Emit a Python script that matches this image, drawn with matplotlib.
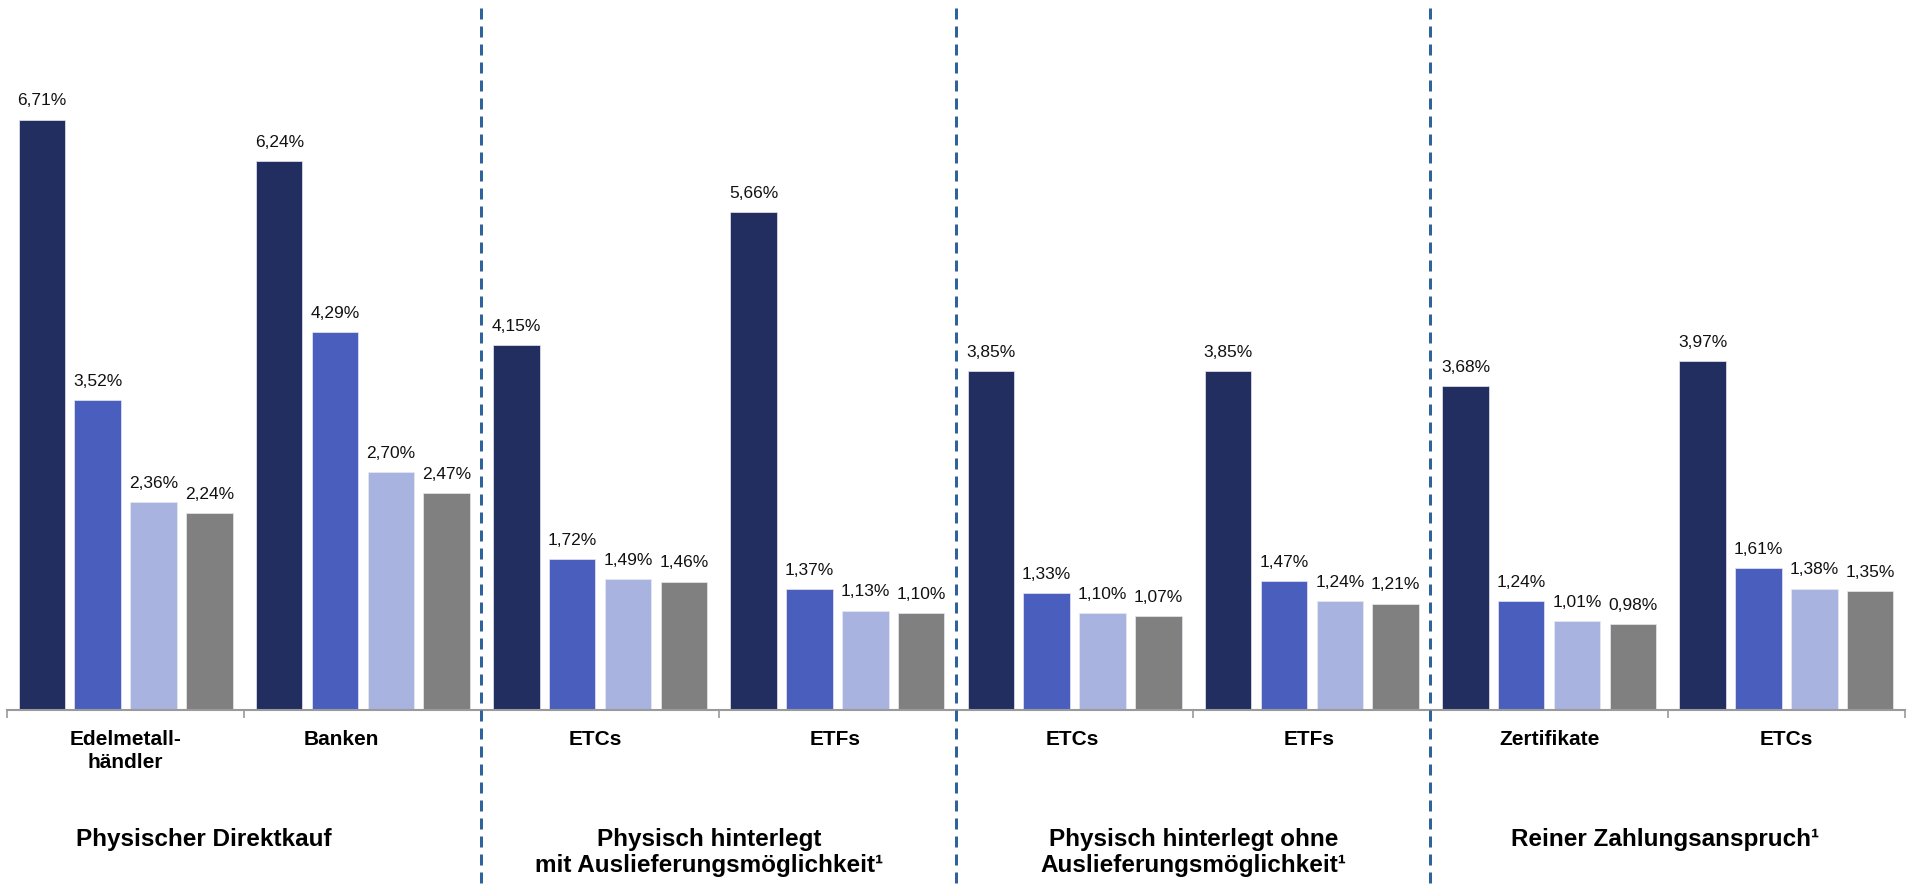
import matplotlib.pyplot as plt
import numpy as np
from matplotlib.lines import Line2D
from matplotlib.transforms import blended_transform_factory

plt.rcParams["font.family"] = ["Liberation Sans", "DejaVu Sans"]

categories = ["Edelmetall-\nhändler", "Banken", "ETCs", "ETFs",
              "ETCs", "ETFs", "Zertifikate", "ETCs"]
label_pos = [0.5, 1.41, 2.48, 3.49, 4.49, 5.49, 6.5, 7.5]
groups = ["Physischer Direktkauf",
          "Physisch hinterlegt\nmit Auslieferungsmöglichkeit¹",
          "Physisch hinterlegt ohne\nAuslieferungsmöglichkeit¹",
          "Reiner Zahlungsanspruch¹"]
group_pos = [0.83, 2.96, 5.0, 6.99]
separators = [2, 4, 6]

series_1 = [6.71, 6.24, 4.15, 5.66, 3.85, 3.85, 3.68, 3.97]
series_2 = [3.52, 4.29, 1.72, 1.37, 1.33, 1.47, 1.24, 1.61]
series_3 = [2.36, 2.70, 1.49, 1.13, 1.10, 1.24, 1.01, 1.38]
series_4 = [2.24, 2.47, 1.46, 1.10, 1.07, 1.21, 0.98, 1.35]
series = [series_1, series_2, series_3, series_4]
colors = ["#232E60", "#4A5EBE", "#A8B3DF", "#808080"]

W, H = 1915, 884
fig = plt.figure(figsize=(W / 100, H / 100), dpi=100)
base_y = 710
px_per_unit = 88.0
ymax = 8
ax = fig.add_axes([7 / W, (H - base_y) / H, 1898 / W, ymax * px_per_unit / H])

x = np.arange(len(categories)) + 0.5
step, width = 0.235, 0.196
for k, vals in enumerate(series):
    xs = x + (k - 1.5) * step
    ax.bar(xs, vals, width=width, color=colors[k], edgecolor="#e8e8f0",
           linewidth=0.5, zorder=2)
    for xi, v in zip(xs, vals):
        ax.annotate(f"{v:.2f}".replace(".", ",") + "%", (xi, v),
                    xytext=(0, 8), textcoords="offset points",
                    ha="center", va="bottom", fontsize=12.5, color="#111111")

ax.set_xlim(0, len(categories))
ax.set_ylim(0, ymax)
for side in ["top", "left", "right"]:
    ax.spines[side].set_visible(False)
ax.spines["bottom"].set_color("#9a9a9a")
ax.spines["bottom"].set_linewidth(1.5)
ax.set_xticks(np.arange(len(categories) + 1))
ax.set_xticklabels([])
ax.tick_params(axis="x", length=6, width=1.2, color="#9a9a9a", direction="out")
ax.set_yticks([])

tr = blended_transform_factory(ax.transData, fig.transFigure)
for lx, label in zip(label_pos, categories):
    ax.text(lx, 1 - 730 / H, label, transform=tr, ha="center", va="top",
            fontsize=15, fontweight="bold", linespacing=1.3)

for gx, label in zip(group_pos, groups):
    ax.text(gx, 1 - 828 / H, label, transform=tr, ha="center", va="top",
            fontsize=17.5, fontweight="bold", linespacing=1.15)

# dashed separators between the product groups, across the whole figure
for sx in separators:
    fig.add_artist(Line2D([sx, sx], [1 - 8 / H, 0], transform=tr,
                          color="#2F639B", linewidth=2.16,
                          linestyle=(0, (3.67, 2.33)), zorder=5))

fig.savefig("out.png", dpi=100)
